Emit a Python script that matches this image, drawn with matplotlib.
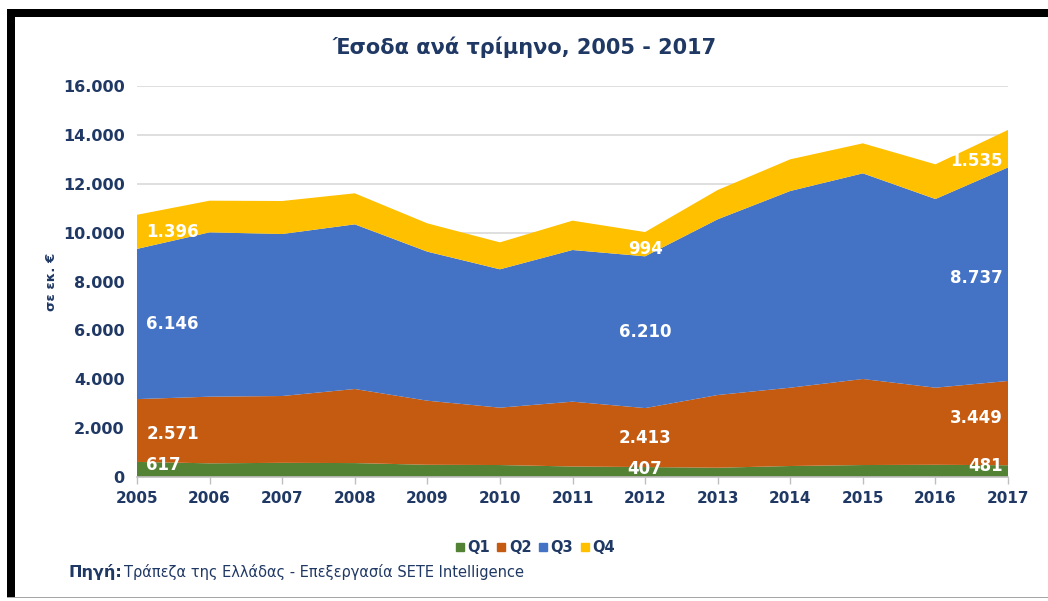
import matplotlib
matplotlib.use("Agg")
import matplotlib.pyplot as plt
from matplotlib.patches import Rectangle
from matplotlib.lines import Line2D
import numpy as np

plt.rcParams["font.family"] = ["DejaVu Sans"]

years = [2005, 2006, 2007, 2008, 2009, 2010, 2011, 2012, 2013, 2014, 2015, 2016, 2017]
q1 = [617, 560, 580, 570, 500, 490, 430, 407, 380, 450, 490, 500, 481]
q2 = [2571, 2727, 2734, 3031, 2623, 2347, 2653, 2413, 2975, 3205, 3520, 3155, 3449]
q3 = [6146, 6724, 6629, 6738, 6098, 5662, 6206, 6210, 7190, 8048, 8416, 7720, 8737]
q4 = [1396, 1296, 1351, 1270, 1159, 1103, 1201, 994, 1199, 1297, 1228, 1420, 1535]
series_names = ["Q1", "Q2", "Q3", "Q4"]
colors = ["#548235", "#C55A11", "#4472C4", "#FFC000"]
yticks = [0, 2000, 4000, 6000, 8000, 10000, 12000, 14000, 16000]
label_years = [2005, 2012, 2017]

title = "Έσοδα ανά τρίμηνο, 2005 - 2017"
ylabel = "σε εκ. €"
navy = "#1F3864"

def fmt(v):
    return f"{v:,.0f}".replace(",", ".")

fig = plt.figure(figsize=(10.48, 6.01), dpi=100)
ax = fig.add_axes([137/1048, 1-477/601, (1008-137)/1048, (477-86)/601])

data = [q1, q2, q3, q4]
ax.stackplot(years, *data, colors=colors, linewidth=0, zorder=2)
ax.set_xlim(years[0], years[-1])
ax.set_ylim(0, 16000)
ax.set_yticks(yticks)
ax.set_yticklabels([fmt(v) for v in yticks])
ax.set_xticks(years)
ax.set_xticklabels([str(y) for y in years])
ax.grid(axis="y", color="#D9D9D9", linewidth=1.2, zorder=0)
ax.set_axisbelow(True)
for s in ["top", "right", "left"]:
    ax.spines[s].set_visible(False)
ax.spines["bottom"].set_color("#BFBFBF")
ax.spines["bottom"].set_linewidth(1.2)
ax.tick_params(axis="y", length=0, pad=9, labelsize=11.5, labelcolor=navy)
ax.tick_params(axis="x", length=5, color="#BFBFBF", width=1, pad=5, labelsize=11, labelcolor=navy)
for lbl in ax.get_yticklabels():
    lbl.set_fontweight("bold")
for lbl in ax.get_xticklabels():
    lbl.set_fontweight("bold")

ax.set_ylabel(ylabel, color=navy, fontsize=9.5, fontweight="bold")
ax.yaxis.set_label_coords((58 - 137) / (1008 - 137), 0.5)

# data labels (small vertical nudges in pixels, like Excel's placement)
nudge = {(2005, 0): 4, (2005, 1): -3, (2012, 0): 3, (2012, 3): -5,
         (2017, 0): 5, (2017, 1): 5, (2017, 2): -4, (2017, 3): -12}
cum = np.cumsum(np.array(data), axis=0)
for yr in label_years:
    i = years.index(yr)
    if i == 0:
        ha, dx = "left", 0.13
    elif i == len(years) - 1:
        ha, dx = "right", -0.07
    else:
        ha, dx = "center", 0
    for k in range(4):
        lo = cum[k - 1][i] if k > 0 else 0
        hi = cum[k][i]
        ax.annotate(fmt(data[k][i]), xy=(yr + dx, (lo + hi) / 2),
                    xytext=(0, nudge.get((yr, k), 0) * 0.72), textcoords="offset points",
                    ha=ha, va="center", color="white", fontsize=12,
                    fontweight="bold", zorder=5)

fig.text(0.501, 1-47/601, title, ha="center", va="center", fontsize=15,
         fontweight="bold", color=navy)

# legend
handles = [Line2D([0], [0], marker="s", linestyle="none", markersize=6,
                  markerfacecolor=c, markeredgecolor=c) for c in colors]
leg = fig.legend(handles, series_names, loc="center", bbox_to_anchor=(535/1048, 1-548/601),
                 ncol=4, frameon=False, handlelength=0.6, handletextpad=0.2,
                 columnspacing=0.5, prop={"weight": "bold", "size": 10.5})
for t in leg.get_texts():
    t.set_color(navy)

# source
fig.text(68/1048, 1-572/601, "Πηγή:", ha="left", va="center", fontsize=11.5,
         fontweight="bold", color=navy)
fig.text(124/1048, 1-572/601, "Τράπεζα της Ελλάδας - Επεξεργασία SETE Intelligence",
         ha="left", va="center", fontsize=10.5, color=navy)

# border
fig.patches.append(Rectangle((7/1048, 1-17/601), 1 - 7/1048, 8/601, transform=fig.transFigure,
                             facecolor="black", edgecolor="none"))
fig.patches.append(Rectangle((7/1048, 1-597/601), 8/1048, 588/601, transform=fig.transFigure,
                             facecolor="black", edgecolor="none"))
fig.patches.append(Rectangle((7/1048, 1-598/601), 1 - 7/1048, 1.5/601, transform=fig.transFigure,
                             facecolor="#A6A6A6", edgecolor="none"))

fig.savefig("out.png", dpi=100)
